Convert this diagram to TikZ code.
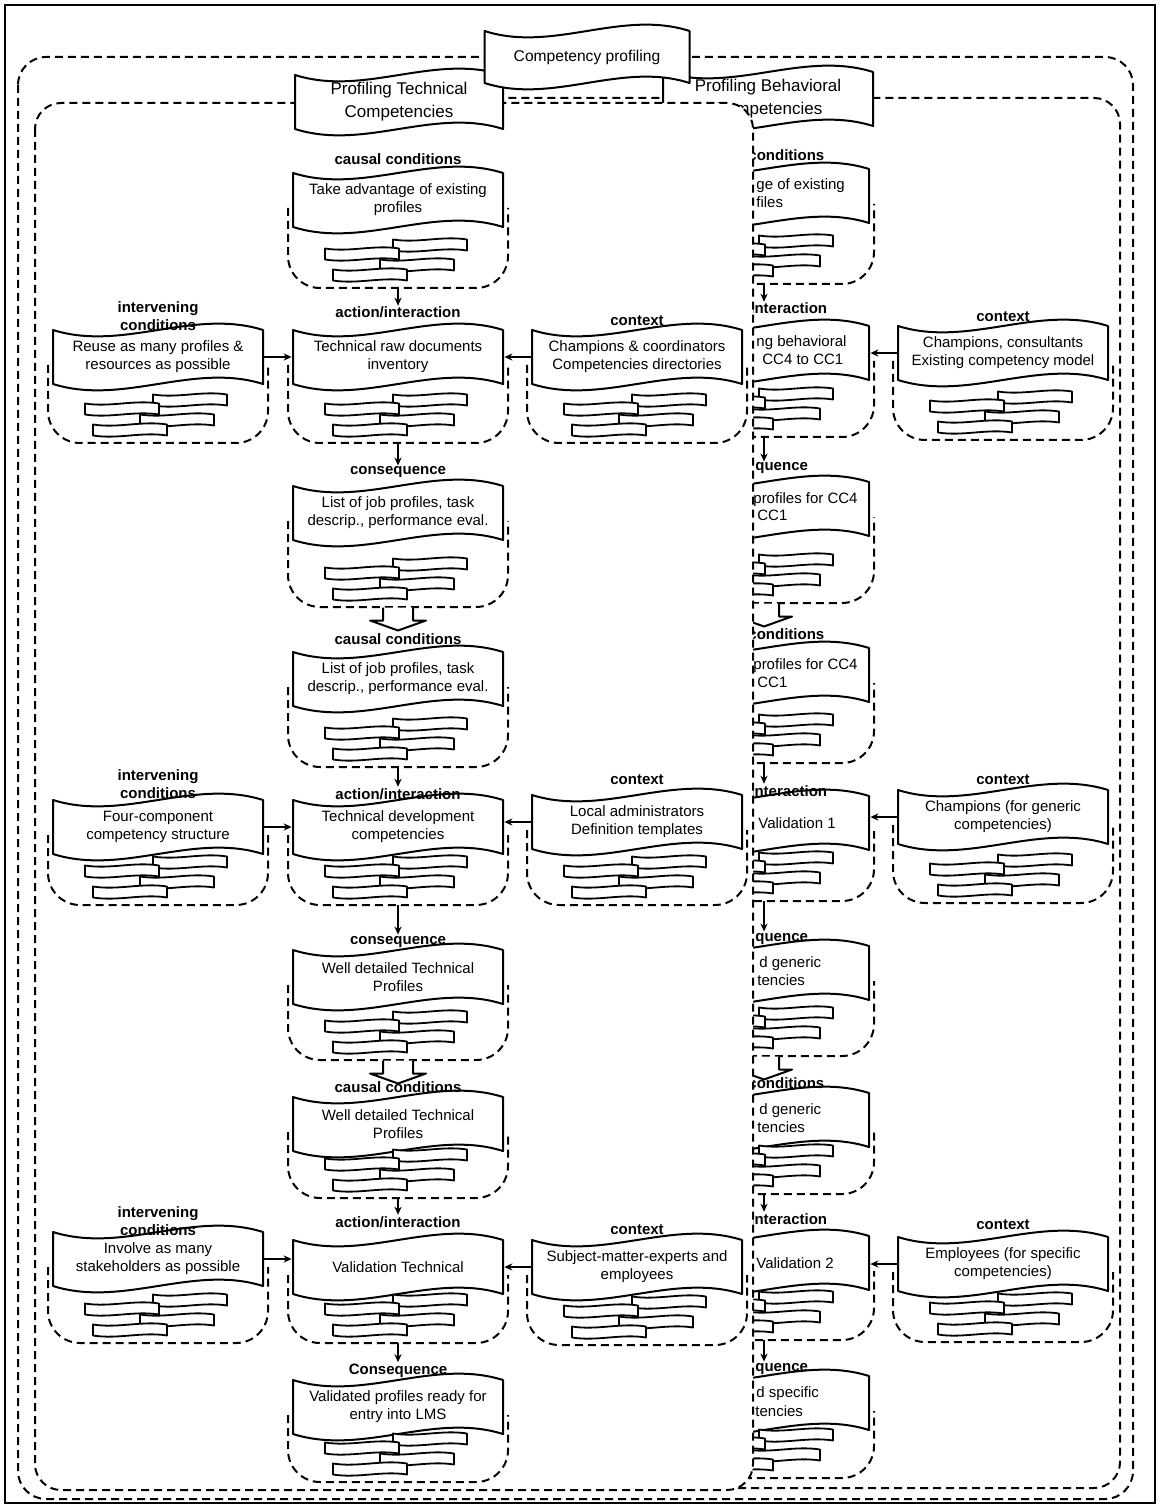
\documentclass[tikz,border=0pt]{standalone}
\usepackage{fontspec}
\setmainfont{Liberation Sans}
\usetikzlibrary{arrows.meta}

% amplitude of the wavy banner edges
\newcommand\wamp{22}

% wavy banner: [node options], name, centre x, top y, width, height, text
\newcommand\wavebanner[7][]{%
  \path[outline] ({#3-#5/2},{#4})
    .. controls ({#3-#5/6},{#4+\wamp}) and ({#3+#5/6},{#4-\wamp}) .. ({#3+#5/2},{#4})
    -- ({#3+#5/2},{#4+#6})
    .. controls ({#3+#5/6},{#4+#6-\wamp}) and ({#3-#5/6},{#4+#6+\wamp}) .. ({#3-#5/2},{#4+#6})
    -- cycle;
  \node[btext, minimum width={(#5)*0.5pt}, minimum height={(#6)*0.5pt}, #1] (#2) at (#3,{#4+#6/2}) {#7};}

% one sheet of the small document pile
\newcommand\docslip[2]{%
  \path[outline, line width=0.9pt] ({#1-37},{#2-5.5})
    .. controls ({#1-12},{#2-1.5}) and ({#1+12},{#2-9.5}) .. ({#1+37},{#2-5.5})
    -- ({#1+37},{#2+5.5})
    .. controls ({#1+12},{#2+1.5}) and ({#1-12},{#2+9.5}) .. ({#1-37},{#2+5.5}) -- cycle;}

% four staggered sheets: centre x, bottom of the frame
\newcommand\docpile[2]{%
  \docslip{#1+32}{#2-43}\docslip{#1-36}{#2-34}\docslip{#1+19}{#2-23}\docslip{#1-28}{#2-13}}

% dashed frame of a unit, open under its banner: bottom coordinate, centre x, top y, bottom y
\newcommand\unitframe[4]{%
  \draw[grp, rounded corners=16pt] ({#2-110},{#3+35}) -- ({#2-110},{#4}) -- ({#2+110},{#4}) -- ({#2+110},{#3+35});
  \coordinate (#1) at (#2,{#4});}

% complete unit: name, centre x, top y, bottom y, text
\newcommand\tapeunit[5]{%
  \unitframe{#1b}{#2}{#3}{#4}
  \wavebanner{#1}{#2}{#3}{210}{54}{#5}
  \docpile{#2}{#4}}

% hollow block arrow below a coordinate
\newcommand\blockarrow[1]{%
  \path[outline] (#1) ++(-15,0.5) -- ++(0,13) -- ++(-13,0) -- ++(28,10) -- ++(28,-10) -- ++(-13,0) -- ++(0,-13);}

\begin{document}
\begin{tikzpicture}[x=0.5pt,y=-0.5pt,
  outline/.style={draw, line width=1pt, line join=round, fill=white},
  grp/.style={line width=1pt, dash pattern=on 4pt off 2.5pt},
  lbl/.style={font=\bfseries\fontsize{7.5}{9}\selectfont, inner sep=0pt, anchor=base},
  lblw/.style={lbl, anchor=base west},
  lbltwo/.style={font=\bfseries\fontsize{7.5}{9}\selectfont, inner sep=0pt, anchor=south, align=center},
  btext/.style={font=\fontsize{7.5}{9}\selectfont, inner sep=0pt, align=center},
  frag/.style={font=\fontsize{7.5}{9}\selectfont, inner sep=0pt, anchor=base west},
  title/.style={font=\fontsize{8.5}{10.5}\selectfont},
  flow/.style={line width=0.9pt, -{Stealth[length=4pt,width=3.6pt]}, shorten >=0.5pt},
]
\useasboundingbox (0,0) rectangle (1160,1507);

% page frame and the overall group
\draw[line width=1.2pt] (5,5) rectangle (1155,1503);
\draw[grp, rounded corners=14pt] (18,57) rectangle (1133,1499);

% ---------------- behavioral competencies (partly behind the technical group) ----------------
\draw[grp, rounded corners=13pt] (401,98) rectangle (1120,1488);

\tapeunit{bA}{764}{169}{284}{}
\node[frag] (bAt1) at (756,190) {ge of existing};
\node[frag] (bAt2) at (756,208) {files};
\node[lblw] (bAl) at (748,161) {conditions};

\tapeunit{bB}{764}{326}{437}{}
\node[frag] (bBt1) at (756,347) {ng behavioral};
\node[frag] (bBt2) at (762,365) {CC4 to CC1};
\node[lblw] (bBl) at (750,314) {interaction};
\tapeunit{bBc}{1003}{326}{440}{Champions, consultants\\Existing competency model}
\node[lbl] (bBcl) at (1003,322) {context};
\draw[flow] (bAb) -- (bBl.north -| bAb);
\draw[flow] (bBc.west) -- (bBc.west -| bB.east);

\tapeunit{bC}{764}{482}{603}{}
\node[frag] (bCt1) at (753,503) {profiles for CC4};
\node[frag] (bCt2) at (757,521) {CC1};
\node[lblw] (bCl) at (755,471) {quence};
\draw[flow] (bBb) -- (bCl.north -| bBb);
\blockarrow{bCb}

\tapeunit{bD}{764}{648}{763}{}
\node[frag] (bDt1) at (753,669) {profiles for CC4};
\node[frag] (bDt2) at (757,687) {CC1};
\node[lblw] (bDl) at (748,639) {conditions};

\tapeunit{bE}{764}{796}{901}{}
\node[frag] (bEt) at (758,828) {Validation 1};
\node[lblw] (bEl) at (750,796) {interaction};
\tapeunit{bEc}{1003}{790}{903}{Champions (for generic\\competencies)}
\node[lbl] (bEcl) at (1003,784) {context};
\draw[flow] (bDb) -- (bEl.north -| bDb);
\draw[flow] (bEc.west) -- (bEc.west -| bE.east);

\tapeunit{bF}{764}{946}{1056}{}
\node[frag] (bFt1) at (759,967) {d generic};
\node[frag] (bFt2) at (757,985) {tencies};
\node[lblw] (bFl) at (755,941) {quence};
\draw[flow] (bEb) -- (bFl.north -| bEb);
\blockarrow{bFb}

\tapeunit{bG}{764}{1093}{1194}{}
\node[frag] (bGt1) at (759,1114) {d generic};
\node[frag] (bGt2) at (757,1132) {tencies};
\node[lblw] (bGl) at (748,1088) {conditions};

\tapeunit{bH}{764}{1236}{1340}{}
\node[frag] (bHt) at (756,1268) {Validation 2};
\node[lblw] (bHl) at (750,1224) {interaction};
\tapeunit{bHc}{1003}{1237}{1342}{Employees (for specific\\competencies)}
\node[lbl] (bHcl) at (1003,1229) {context};
\draw[flow] (bGb) -- (bHl.north -| bGb);
\draw[flow] (bHc.west) -- (bHc.west -| bH.east);

\tapeunit{bI}{764}{1376}{1478}{}
\node[frag] (bIt1) at (756,1397) {d specific};
\node[frag] (bIt2) at (755,1416) {tencies};
\node[lblw] (bIl) at (755,1371) {quence};
\draw[flow] (bHb) -- (bIl.north -| bHb);

\wavebanner[title]{behav}{768}{72}{210}{54}{Profiling Behavioral\\[1pt]Competencies}

% ---------------- technical competencies ----------------
\draw[grp, fill=white, rounded corners=13pt] (35,103) rectangle (753,1490);

\tapeunit{A}{398}{173}{288}{Take advantage of existing\\profiles}
\node[lbl] (Al) at (398,165) {causal conditions};

\tapeunit{Bi}{158}{330}{443}{Reuse as many profiles \&\\resources as possible}
\node[lbltwo] (Bil) at (158,331) {intervening\\conditions};
\tapeunit{B}{398}{330}{443}{Technical raw documents\\inventory}
\node[lbl] (Bl) at (398,318) {action/interaction};
\tapeunit{Bc}{637}{330}{443}{Champions \& coordinators\\Competencies directories}
\node[lbl] (Bcl) at (637,326) {context};
\draw[flow] (Ab) -- (Bl);
\draw[flow] (Bi.east) -- (Bi.east -| B.west);
\draw[flow] (Bc.west) -- (Bc.west -| B.east);

\tapeunit{C}{398}{486}{607}{List of job profiles, task\\descrip., performance eval.}
\node[lbl] (Cl) at (398,475) {consequence};
\draw[flow] (Bb) -- (Cl);
\blockarrow{Cb}

\tapeunit{D}{398}{652}{767}{List of job profiles, task\\descrip., performance eval.}
\node[lbl] (Dl) at (398,644) {causal conditions};

\tapeunit{Ei}{158}{800}{905}{Four-component\\competency structure}
\node[lbltwo] (Eil) at (158,799) {intervening\\conditions};
\tapeunit{E}{398}{800}{905}{Technical development\\competencies}
\node[lbl] (El) at (398,799) {action/interaction};
\tapeunit{Ec}{637}{795}{905}{Local administrators\\Definition templates}
\node[lbl] (Ecl) at (637,784) {context};
\draw[flow] (Db) -- (El);
\draw[flow] (Ei.east) -- (Ei.east -| E.west);
\draw[flow] (Ec.west) -- (Ec.west -| E.east);

\tapeunit{F}{398}{950}{1060}{Well detailed Technical\\Profiles}
\node[lbl] (Fl) at (398,944) {consequence};
\draw[flow] (Eb) -- (Fl);
\blockarrow{Fb}

\tapeunit{G}{398}{1097}{1198}{Well detailed Technical\\Profiles}
\node[lbl] (Gl) at (398,1092) {causal conditions};

\tapeunit{Hi}{158}{1232}{1343}{Involve as many\\stakeholders as possible}
\node[lbltwo] (Hil) at (158,1236) {intervening\\conditions};
\tapeunit{H}{398}{1240}{1343}{Validation Technical}
\node[lbl] (Hl) at (398,1227) {action/interaction};
\tapeunit{Hc}{637}{1240}{1345}{Subject-matter-experts and\\employees}
\node[lbl] (Hcl) at (637,1234) {context};
\draw[flow] (Gb) -- (Hl);
\draw[flow] (Hi.east) -- (Hi.east -| H.west);
\draw[flow] (Hc.west) -- (Hc.west -| H.east);

\tapeunit{I}{398}{1380}{1482}{Validated profiles ready for\\entry into LMS}
\node[lbl] (Il) at (398,1374) {Consequence};
\draw[flow] (Hb) -- (Il);

\wavebanner[title]{tech}{399}{75}{208}{54}{Profiling Technical\\[1pt]Competencies}

% ---------------- overall title ----------------
\wavebanner[font=\fontsize{7.8}{9}\selectfont]{prof}{587}{31}{205}{52}{Competency profiling}

\end{tikzpicture}
\end{document}
